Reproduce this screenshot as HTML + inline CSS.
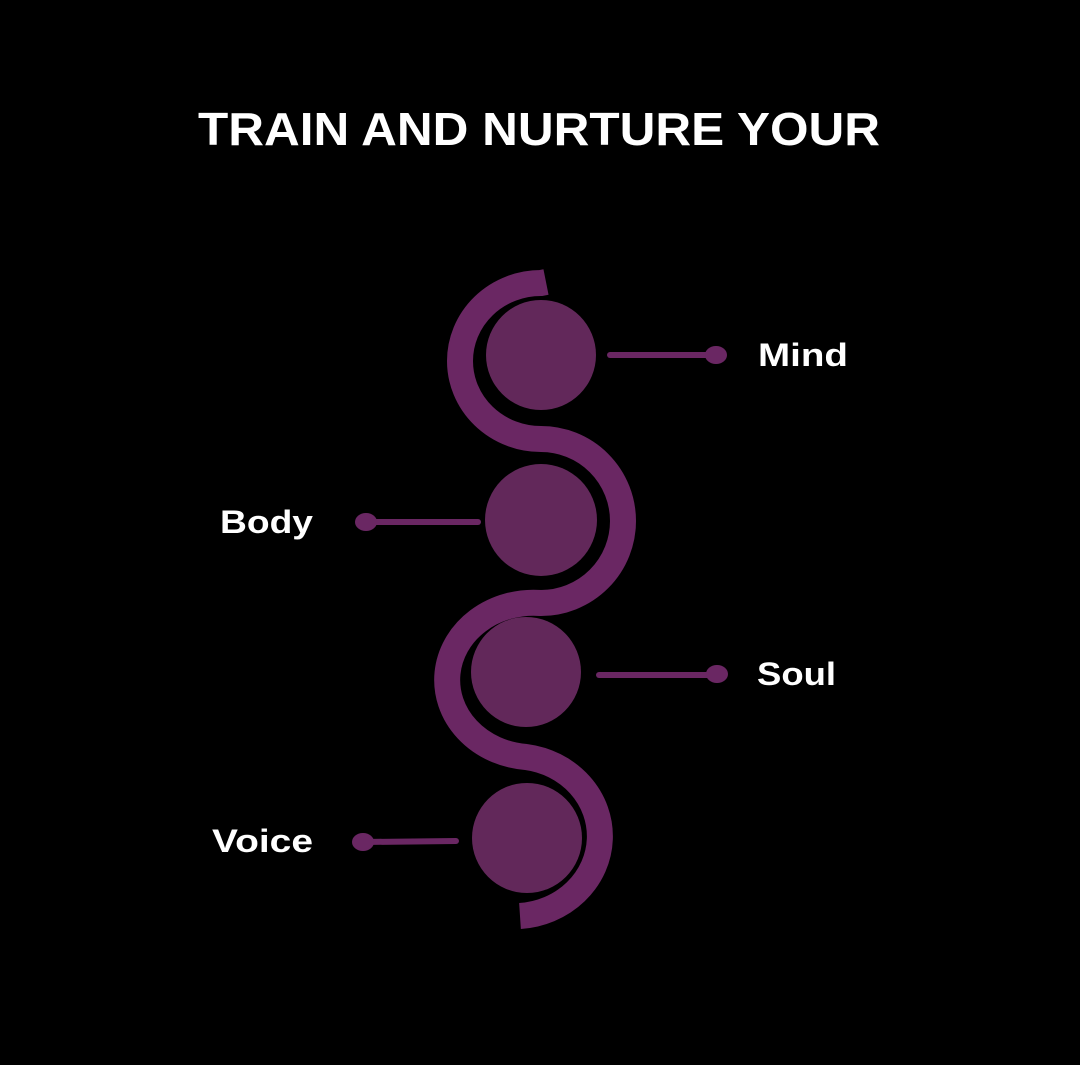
<!DOCTYPE html>
<html><head><meta charset="utf-8"><style>
html,body{margin:0;padding:0;background:#000;}
svg{display:block}
text{font-family:"Liberation Sans",sans-serif;font-weight:bold;fill:#fff}
</style></head><body>
<svg width="1080" height="1065" viewBox="0 0 1080 1065" xmlns="http://www.w3.org/2000/svg">
<rect width="1080" height="1065" fill="#000"/>
<text x="539" y="145" font-size="46" text-anchor="middle" textLength="682" lengthAdjust="spacingAndGlyphs">TRAIN AND NURTURE YOUR</text>
<path d="M546 282 L541 283 A81 78 0 0 0 541 439 A82 82 0 0 1 541 603 A86 77 0 1 0 526 757 A86 80 0 0 1 520 916" fill="none" stroke="#6a2763" stroke-width="26"/>
<g fill="#62285a">
<circle cx="541" cy="355" r="55"/>
<circle cx="541" cy="520" r="56"/>
<circle cx="526" cy="672" r="55"/>
<circle cx="527" cy="838" r="55"/>
</g>
<g stroke="#6a2763" stroke-width="6" stroke-linecap="round">
<line x1="610" y1="355" x2="714" y2="355"/>
<line x1="368" y1="522" x2="478" y2="522"/>
<line x1="599" y1="675" x2="715" y2="675"/>
<line x1="364" y1="842" x2="456" y2="841"/>
</g>
<g fill="#6a2763">
<ellipse cx="716" cy="355" rx="11" ry="9"/>
<ellipse cx="366" cy="522" rx="11" ry="9"/>
<ellipse cx="717" cy="674" rx="11" ry="9"/>
<ellipse cx="363" cy="842" rx="11" ry="9"/>
</g>
<text x="758" y="366" font-size="32" textLength="90" lengthAdjust="spacingAndGlyphs">Mind</text>
<text x="220" y="533" font-size="32" textLength="93" lengthAdjust="spacingAndGlyphs">Body</text>
<text x="757" y="685" font-size="32" textLength="79" lengthAdjust="spacingAndGlyphs">Soul</text>
<text x="212" y="852" font-size="32" textLength="101" lengthAdjust="spacingAndGlyphs">Voice</text>
</svg>
</body></html>
